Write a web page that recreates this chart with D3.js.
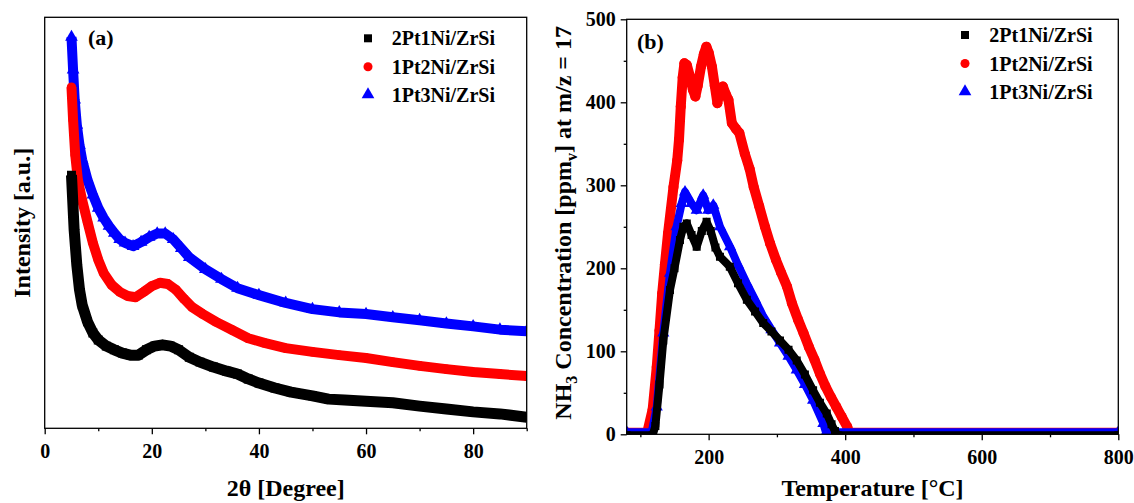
<!DOCTYPE html>
<html>
<head>
<meta charset="utf-8">
<script src="https://cdn.jsdelivr.net/npm/d3@7"></script>
<style>
body { margin: 0; background: #fff; }
text { font-family: "Liberation Serif", "Times New Roman", serif; font-weight: bold; fill: #000; }
</style>
</head>
<body>
<svg id="chart" width="1134" height="503"></svg>
<script>
//Series names (same for both panels)
var seriesNames = ["2Pt1Ni/ZrSi", "1Pt2Ni/ZrSi", "1Pt3Ni/ZrSi"];

//(a) XRD patterns - 2theta [degree] and intensity [a.u.]
var xrdAngle1 = [5,5.5,6,6.5,7,8,9,10,11.5,13,14.5,16,17.5,19,20.5,22,23.5,25,27,29,31.5,34,36,38,40,43,46,50,53,56,60,65,70,75,80,85,90];
var xrdInt1 = [61.6,48.2,39.7,33.7,30.0,25.9,23.2,21.5,20.0,19.1,18.3,17.8,17.8,19.1,20.0,20.3,20.0,19.1,17.3,16.1,14.9,13.9,13.2,12.0,11.0,9.8,8.8,7.9,7.1,6.9,6.6,6.2,5.4,4.7,4.0,3.5,2.7];

var xrdAngle2 = [5,5.3,5.7,6.2,7,8,9,10,11,12.5,14,15.5,17,18.5,20,21.5,23,24.5,26,27.5,29.5,32,35,38,41,45,50,55,60,65,70,75,80,85,90];
var xrdInt2 = [83.0,75.0,66.5,60.4,55.5,50.2,45.1,41.0,37.8,34.9,33.2,32.2,31.9,33.2,34.6,35.4,35.1,33.7,31.5,29.5,27.8,25.9,23.9,21.9,20.8,19.5,18.6,17.8,17.1,16.1,15.2,14.4,13.7,13.2,12.7];

var xrdAngle3 = [5,5.3,5.6,6,6.5,7,8,9,10,11,12,13,14,15,16.5,18,19.5,21,22.5,24,25.5,27,30,33,36,40,45,50,55,60,65,70,75,80,85,90];
var xrdInt3 = [95.2,87.2,79.9,73.8,68.9,65.3,60.4,56.8,53.6,51.2,49.2,47.5,46.0,45.1,44.3,45.3,46.5,47.4,47.4,46.0,43.8,41.6,38.7,36.3,34.1,32.4,30.5,29.0,28.2,27.8,27.0,26.3,25.5,24.8,24.0,23.6];

//(b) NH3-TPD - temperature [C] and NH3 concentration [ppmv]
var tpdTemp1 = [80,118,122,128,133.6,143.4,150,158,163,168,175,182.5,190,197,203,210,216.6,231,243,256,268,280,292,304.5,317,329,341,353,363,373,380,385,389,800];
var tpdConc1 = [-1,-1,10,60,113,174,200,234,250,254,240,226,245,256,245,225,214,202,182,162,148,134,124,113,102,89,72,53,38,25,12,4,-1,-1];

var tpdTemp2 = [80,110,118,124,128,132,136,140.5,148.5,154,156.6,159.2,162,164.5,168,172.7,177,180.6,184,188.8,193,196.7,200,204.8,209,212.8,216,220.9,225,229,234,240,245,253,260,266,274,282.5,290,298.7,306,314.8,322,331,339,347,355,363,371,379,387,395,403,406,800];
var tpdConc2 = [2,2,30,81,125,170,205,242,298,330,355,395,430,447,445,431,415,407,420,443,458,467,460,443,420,399,412,419,410,403,375,368,363,338,320,298,275,250,230,210,195,178,158,138,122,105,90,73,58,45,33,21,9,2,2];

var tpdTemp3 = [80,116.6,124,133.6,143.4,153,160.5,165.4,175,182.5,192,199.5,206.8,216.6,231.3,243,255.7,268,280,292,304.5,317,329,341,353,368,372,378,800];
var tpdConc3 = [2.5,2.5,33,122,194,250,278,292,278,270,288,270,276,250,226,204,182,162,142,126,110,94,77.5,60,41,13,2,2.5,2.5];

//Axis ticks
var xrdMajorTicks = [0,20,40,60,80];
var xrdMinorTicks = [10,30,50,70,90];
var tpdXMajorTicks = [200,400,600,800];
var tpdXMinorTicks = [100,300,500,700];
var tpdYMajorTicks = [0,100,200,300,400,500];
var tpdYMinorTicks = [50,150,250,350,450];

var colors = ["#000000", "#ff0000", "#0000ff"];
var symbols = [d3.symbolSquare, d3.symbolCircle, d3.symbolTriangle];

var svg = d3.select("#chart");

//Panel frames (pixel boxes)
var boxA = {left: 44.7, right: 526.7, top: 17.3, bottom: 428.3};
var boxB = {left: 626.7, right: 1118.3, top: 19.3, bottom: 434.3};

//Scales
var xA = d3.scaleLinear().domain([0, 90]).range([boxA.left, boxA.right]);
var yA = d3.scaleLinear().domain([0, 100]).range([boxA.bottom, boxA.top]);
var xB = d3.scaleLinear().domain([80, 800]).range([boxB.left, boxB.right]);
var yB = d3.scaleLinear().domain([0, 500]).range([boxB.bottom, boxB.top]);

//Clip paths
var defs = svg.append("defs");
[["clipA", boxA], ["clipB", boxB]].forEach(function(c) {
	defs.append("clipPath").attr("id", c[0])
		.append("rect")
		.attr("x", c[1].left).attr("y", c[1].top)
		.attr("width", c[1].right - c[1].left)
		.attr("height", c[1].bottom - c[1].top);
});

//Function to draw one thick marker series
function drawSeries(xs, ys, x, y, i, clipId, strokeW, symSize) {
	var pts = xs.map(function(d, k) { return [d, ys[k]]; });
	var g = svg.append("g").attr("clip-path", "url(#" + clipId + ")");

	var line = d3.line()
		.x(function(d) { return x(d[0]); })
		.y(function(d) { return y(d[1]); });

	g.append("path")
		.datum(pts)
		.attr("d", line)
		.attr("fill", "none")
		.attr("stroke", colors[i])
		.attr("stroke-width", strokeW)
		.attr("stroke-linejoin", "round")
		.attr("stroke-linecap", "butt");

	g.selectAll("path.sym")
		.data(pts)
		.enter().append("path")
		.attr("class", "sym")
		.attr("d", d3.symbol().type(symbols[i]).size(symSize))
		.attr("transform", function(d) { return "translate(" + x(d[0]) + "," + y(d[1]) + ")"; })
		.attr("fill", colors[i]);
}

//Panel (a): draw black last so order matches picture
drawSeries(xrdAngle3, xrdInt3, xA, yA, 2, "clipA", 10, 70);
drawSeries(xrdAngle2, xrdInt2, xA, yA, 1, "clipA", 10, 70);
drawSeries(xrdAngle1, xrdInt1, xA, yA, 0, "clipA", 11, 80);

//Panel (b)
drawSeries(tpdTemp2, tpdConc2, xB, yB, 1, "clipB", 10, 80);
drawSeries(tpdTemp3, tpdConc3, xB, yB, 2, "clipB", 8, 64);
drawSeries(tpdTemp1, tpdConc1, xB, yB, 0, "clipB", 8, 64);

//Function to add axis with major + minor ticks
function addXAxis(x, box, major, minor) {
	var gMaj = svg.append("g")
		.attr("transform", "translate(0," + box.bottom + ")")
		.call(d3.axisBottom(x).tickValues(major).tickSize(6).tickFormat(d3.format("d")));
	gMaj.select(".domain").remove();
	gMaj.selectAll("text").attr("y", 30).attr("dy", null).style("font-size", "20px").style("font-family", null);
	var gMin = svg.append("g")
		.attr("transform", "translate(0," + box.bottom + ")")
		.call(d3.axisBottom(x).tickValues(minor).tickSize(3).tickFormat(""));
	gMin.select(".domain").remove();
	svg.selectAll(".tick line").attr("stroke", "#000").attr("stroke-width", 1.3);
}

function addFrame(box) {
	svg.append("rect")
		.attr("x", box.left).attr("y", box.top)
		.attr("width", box.right - box.left)
		.attr("height", box.bottom - box.top)
		.attr("fill", "none")
		.attr("stroke", "#000")
		.attr("stroke-width", 1.3);
}

addXAxis(xA, boxA, xrdMajorTicks, xrdMinorTicks);
addXAxis(xB, boxB, tpdXMajorTicks, tpdXMinorTicks);

//Y axis for panel (b)
var gy = svg.append("g")
	.attr("transform", "translate(" + boxB.left + ",0)")
	.call(d3.axisLeft(yB).tickValues(tpdYMajorTicks).tickSize(6).tickPadding(5).tickFormat(d3.format("d")));
gy.select(".domain").remove();
gy.selectAll("text").style("font-size", "20px").style("font-family", null);
var gyMin = svg.append("g")
	.attr("transform", "translate(" + boxB.left + ",0)")
	.call(d3.axisLeft(yB).tickValues(tpdYMinorTicks).tickSize(3).tickFormat(""));
gyMin.select(".domain").remove();
svg.selectAll(".tick line").attr("stroke", "#000").attr("stroke-width", 1.3);

addFrame(boxA);
addFrame(boxB);

//Axis titles
svg.append("text")
	.attr("x", (boxA.left + boxA.right) / 2).attr("y", 496)
	.attr("text-anchor", "middle").style("font-size", "24px")
	.text("2\u03b8 [Degree]");

svg.append("text")
	.attr("x", (boxB.left + boxB.right) / 2).attr("y", 496)
	.attr("text-anchor", "middle").style("font-size", "24px")
	.text("Temperature [\u00b0C]");

svg.append("text")
	.attr("transform", "translate(30," + ((boxA.top + boxA.bottom) / 2) + ") rotate(-90)")
	.attr("text-anchor", "middle").style("font-size", "24px")
	.text("Intensity [a.u.]");

var yTitle = svg.append("text")
	.attr("transform", "translate(571," + ((boxB.top + boxB.bottom) / 2 - 4) + ") rotate(-90)")
	.attr("text-anchor", "middle").style("font-size", "24px");
yTitle.append("tspan").text("NH");
yTitle.append("tspan").attr("dy", 6).style("font-size", "16px").text("3");
yTitle.append("tspan").attr("dy", -6).text(" Concentration [ppm");
yTitle.append("tspan").attr("dy", 6).style("font-size", "16px").text("v");
yTitle.append("tspan").attr("dy", -6).text("] at m/z = 17");

//Panel labels
svg.append("text").attr("x", 88).attr("y", 45).style("font-size", "22px").text("(a)");
svg.append("text").attr("x", 637).attr("y", 49).style("font-size", "22px").text("(b)");

//Legends
function addLegend(mx, tx, rows) {
	seriesNames.forEach(function(name, i) {
		svg.append("path")
			.attr("d", d3.symbol().type(symbols[i]).size(i == 2 ? 70 : 64)())
			.attr("transform", "translate(" + mx + "," + rows[i] + ")")
			.attr("fill", colors[i]);
		svg.append("text")
			.attr("x", tx).attr("y", rows[i] + 7)
			.style("font-size", "20px")
			.text(name);
	});
}
addLegend(368, 391.7, [38.3, 66.7, 94.5]);
addLegend(965, 989.3, [35, 63.5, 91.5]);
</script>
</body>
</html>
